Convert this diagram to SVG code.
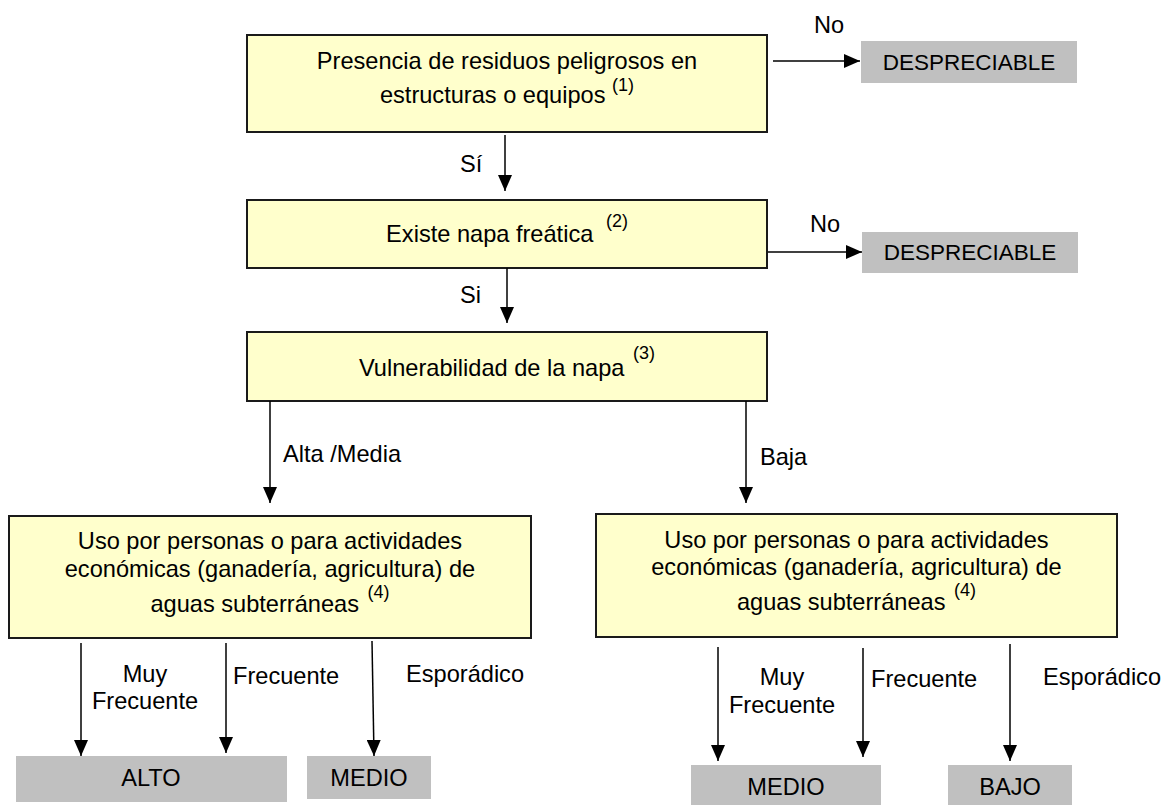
<svg xmlns="http://www.w3.org/2000/svg" width="1163" height="805" viewBox="0 0 1163 805">
  <defs>
    <marker id="arrow" markerUnits="userSpaceOnUse" markerWidth="16" markerHeight="14" refX="16" refY="7" orient="auto">
      <path d="M0,0 L16,7 L0,14 Z" fill="#000"/>
    </marker>
    <style>
      text { font-family: "Liberation Sans", Arial, sans-serif; fill: #000; }
      .q { fill: #ffffcc; stroke: #1a1a1a; stroke-width: 2; }
      .r { fill: #c0c0c0; stroke: none; }
      .t { font-size: 23.6px; }
      .c { text-anchor: middle; }
      .res { font-size: 22.5px; }
      .sup { font-size: 18px; }
      .edge { fill: none; stroke: #000; stroke-width: 1.5; marker-end: url(#arrow); }
    </style>
  </defs>
  <rect width="1163" height="805" fill="#fff"/>

  <!-- decision steps -->
  <g id="residuos">
    <rect class="q" x="247" y="35" width="520" height="97"/>
    <text class="t c" x="507" y="69">Presencia de residuos peligrosos en</text>
    <text class="t c" x="507" y="103">estructuras o equipos <tspan class="sup" dy="-12">(1)</tspan></text>
  </g>
  <g id="napa">
    <rect class="q" x="247" y="200" width="520" height="68"/>
    <text class="t c" x="507" y="242">Existe napa freática <tspan class="sup" dx="6" dy="-15">(2)</tspan></text>
  </g>
  <g id="vulnerabilidad">
    <rect class="q" x="247" y="332" width="520" height="69"/>
    <text class="t c" x="507" y="376">Vulnerabilidad de la napa <tspan class="sup" dx="2" dy="-17">(3)</tspan></text>
  </g>
  <g id="uso-alta">
    <rect class="q" x="9" y="516" width="522" height="122"/>
    <text class="t c" x="270" y="549">Uso por personas o para actividades</text>
    <text class="t c" x="270" y="577">económicas (ganadería, agricultura) de</text>
    <text class="t c" x="270" y="612">aguas subterráneas <tspan class="sup" dx="2" dy="-14">(4)</tspan></text>
  </g>
  <g id="uso-baja">
    <rect class="q" x="596" y="514" width="521" height="123"/>
    <text class="t c" x="856.5" y="548">Uso por personas o para actividades</text>
    <text class="t c" x="856.5" y="575">económicas (ganadería, agricultura) de</text>
    <text class="t c" x="856.5" y="610">aguas subterráneas <tspan class="sup" dx="2" dy="-14">(4)</tspan></text>
  </g>

  <!-- results -->
  <g id="despreciable-1">
    <rect class="r" x="861" y="41" width="216" height="42"/>
    <text class="res c" x="969" y="70">DESPRECIABLE</text>
  </g>
  <g id="despreciable-2">
    <rect class="r" x="862" y="232" width="216" height="41"/>
    <text class="res c" x="970" y="260">DESPRECIABLE</text>
  </g>
  <g id="alto">
    <rect class="r" x="16" y="756" width="271" height="46"/>
    <text class="t c" x="151" y="786">ALTO</text>
  </g>
  <g id="medio-1">
    <rect class="r" x="307" y="756" width="124" height="43"/>
    <text class="t c" x="369" y="786">MEDIO</text>
  </g>
  <g id="medio-2">
    <rect class="r" x="691" y="765" width="190" height="40"/>
    <text class="t c" x="786" y="795">MEDIO</text>
  </g>
  <g id="bajo">
    <rect class="r" x="948" y="765" width="124" height="40"/>
    <text class="t c" x="1010" y="795">BAJO</text>
  </g>

  <!-- connectors and their labels -->
  <g id="connectors">
    <path class="edge" d="M773,61 H860"/>
    <path class="edge" d="M505,135 V191"/>
    <path class="edge" d="M768,252 H862"/>
    <path class="edge" d="M507,268 V323"/>
    <path class="edge" d="M270,401 V503"/>
    <path class="edge" d="M746,401 V503"/>
    <path class="edge" d="M81,643 V756"/>
    <path class="edge" d="M226,643 V753"/>
    <path class="edge" d="M372,641 L374,756"/>
    <path class="edge" d="M718,647 V761"/>
    <path class="edge" d="M863,648 V757"/>
    <path class="edge" d="M1010,644 V761"/>

    <text class="t" x="814" y="33">No</text>
    <text class="t" x="810" y="232">No</text>
    <text class="t" x="460" y="172">Sí</text>
    <text class="t" x="460" y="303">Si</text>
    <text class="t" x="283" y="462">Alta /Media</text>
    <text class="t" x="760" y="465">Baja</text>

    <text class="t c" x="145" y="682">Muy</text>
    <text class="t c" x="145" y="709">Frecuente</text>
    <text class="t" x="233" y="684">Frecuente</text>
    <text class="t" x="406" y="682">Esporádico</text>

    <text class="t c" x="782" y="685">Muy</text>
    <text class="t c" x="782" y="713">Frecuente</text>
    <text class="t" x="871" y="687">Frecuente</text>
    <text class="t" x="1043" y="685">Esporádico</text>
  </g>
</svg>
